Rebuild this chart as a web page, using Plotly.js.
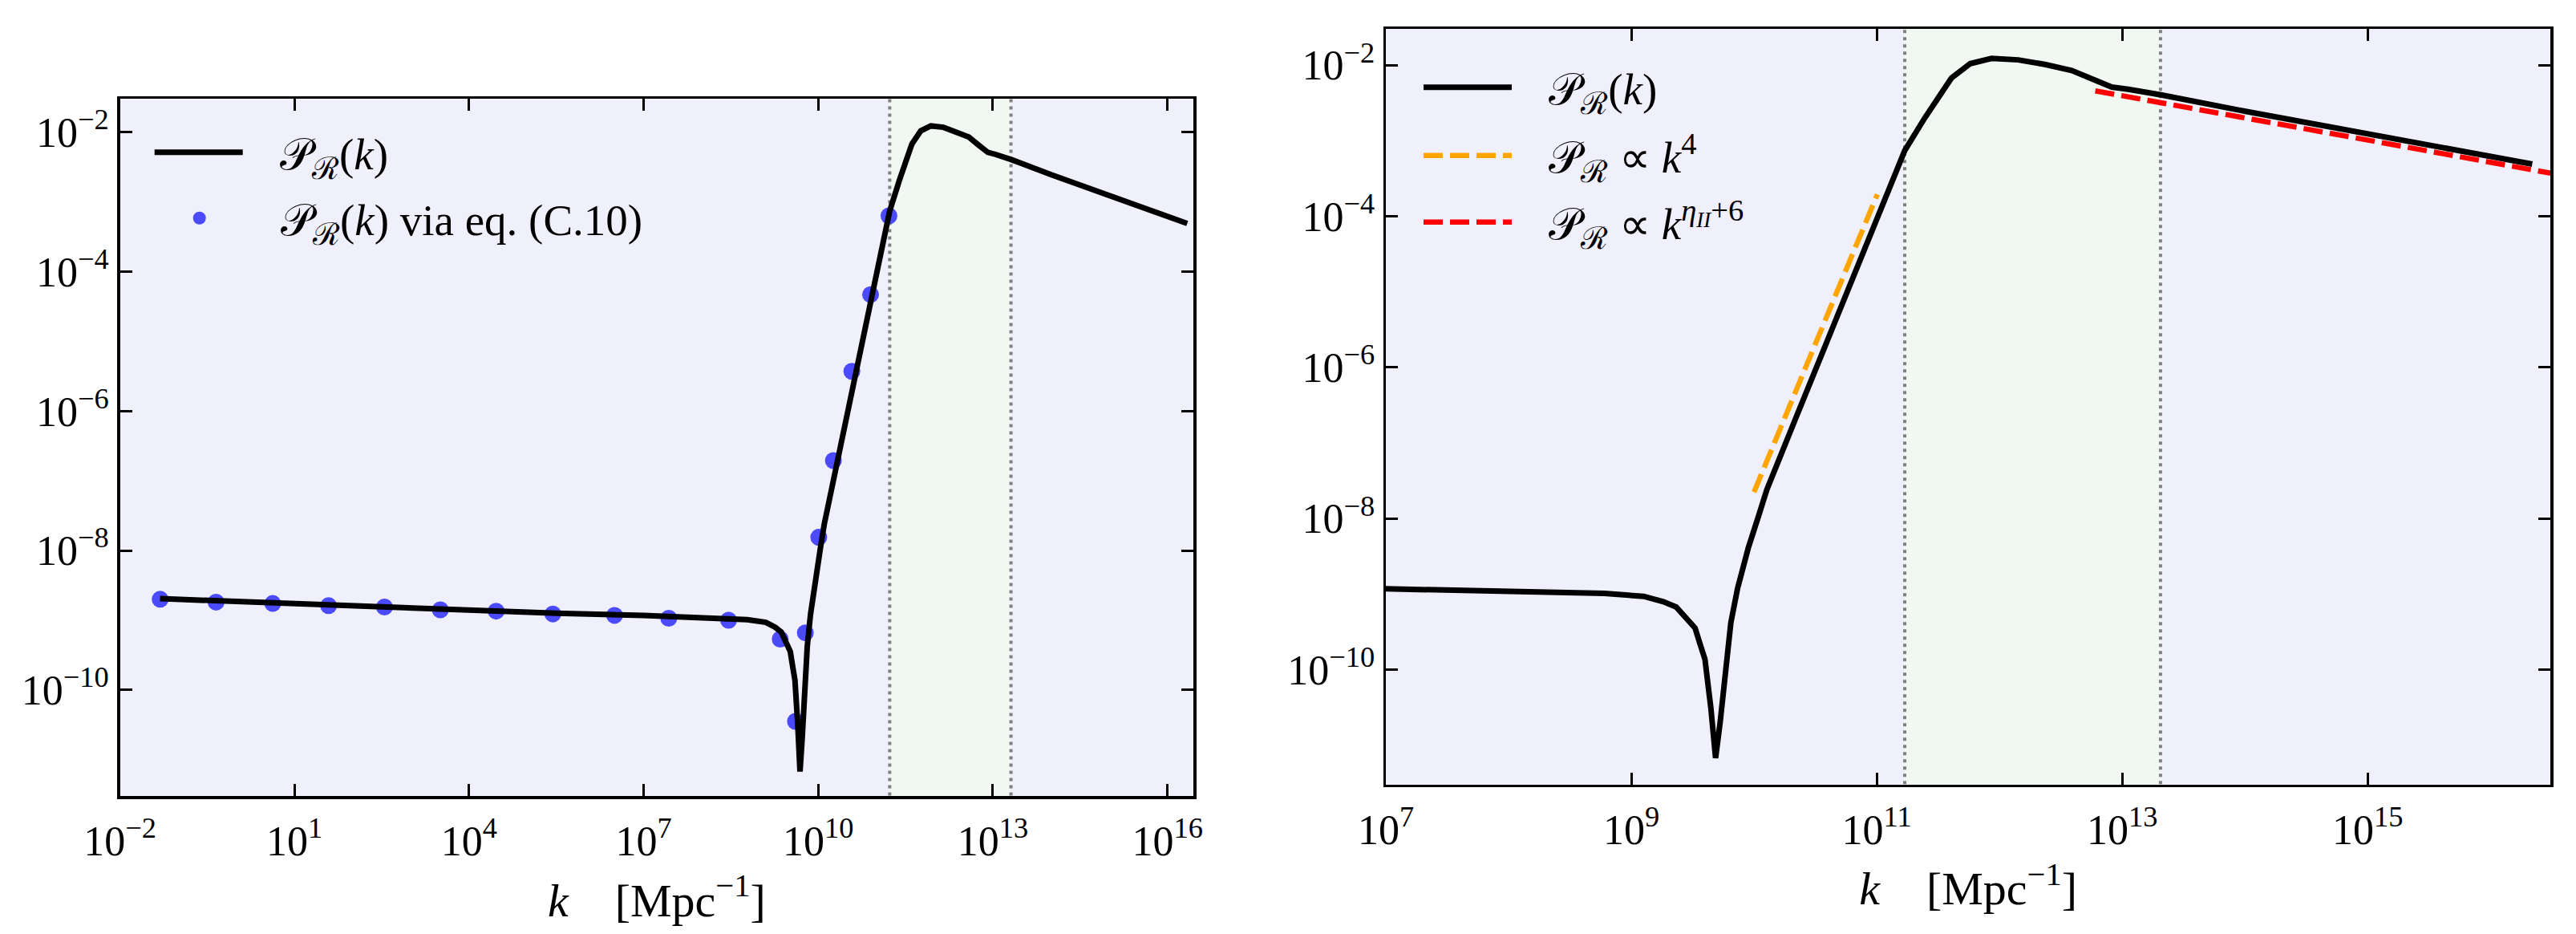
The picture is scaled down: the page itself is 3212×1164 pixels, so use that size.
<!DOCTYPE html>
<html>
<head>
<meta charset="utf-8">
<script src="https://cdn.plot.ly/plotly-3.0.1.min.js"></script>
<style>
  html, body { margin: 0; padding: 0; background: #ffffff; }
  #chart { width: 3212px; height: 1164px; }
  #chart svg text { font-family: 'Liberation Serif' !important; }
</style>
</head>
<body>
<div id="chart"></div>
<script>
// ---------- data ----------
// Curvature power spectrum P_R(k), k in Mpc^-1
const kCurve = [0.049, 3.16, 1.0e3, 3.16e5, 1.0e7, 1.0e8, 6.03e8, 1.26e9, 1.82e9, 2.32e9,
  2.82e9, 3.31e9, 3.63e9, 3.98e9, 4.45e9, 4.86e9, 5.30e9, 5.86e9, 6.47e9, 7.35e9,
  8.97e9, 1.096e10, 1.27e10, 2.24e10, 5.62e10, 1.175e11, 1.69e11, 2.46e11, 3.16e11, 4.06e11,
  5.78e11, 8.61e11, 1.42e12, 2.34e12, 3.87e12, 5.79e12, 8.22e12, 1.12e13, 2.03e13, 1.01e14,
  1.0e15, 2.19e16];
const PCurve = [2.04e-9, 1.78e-9, 1.51e-9, 1.26e-9, 1.175e-9, 1.10e-9, 1.02e-9, 9.33e-10, 7.94e-10, 6.76e-10,
  4.90e-10, 3.55e-10, 2.19e-10, 1.38e-10, 3.09e-11, 6.76e-12, 2.04e-11, 1.05e-10, 4.17e-10, 1.20e-9,
  4.07e-9, 1.12e-8, 2.40e-8, 2.34e-7, 9.55e-6, 1.86e-4, 7.41e-4, 2.00e-3, 3.80e-3, 6.76e-3,
  1.047e-2, 1.23e-2, 1.175e-2, 1.023e-2, 8.51e-3, 6.46e-3, 5.13e-3, 4.79e-3, 4.07e-3, 2.45e-3,
  1.23e-3, 4.90e-4];

// P_R(k) via eq. (C.10)
const kDots = [0.0492, 0.449, 4.23, 38.5, 352, 3.21e3, 2.92e4, 2.75e5, 3.16e6, 2.70e7,
  2.88e8, 2.22e9, 4.06e9, 6.0e9, 1.02e10, 1.82e10, 3.78e10, 7.93e10, 1.64e11];
const PDots = [2.00e-9, 1.82e-9, 1.74e-9, 1.62e-9, 1.55e-9, 1.41e-9, 1.35e-9, 1.23e-9, 1.175e-9, 1.07e-9,
  1.0e-9, 5.37e-10, 3.55e-11, 6.61e-10, 1.55e-8, 1.95e-7, 3.72e-6, 4.68e-5, 6.31e-4];

// power-law guides
const kK4 = [1.0e10, 1.01e11];
const PK4 = [2.24e-8, 1.95e-4];
const kEta = [6.03e12, 3.09e16];
const PEta = [4.57e-3, 3.72e-4];

// shaded band (k range)
const bandEdges = [1.69e11, 2.05e13];
const bandY = [1e-14, 1];

// ticks
const xTickValsLeft = [1e-2, 1e1, 1e4, 1e7, 1e10, 1e13, 1e16];
const xTickTextLeft = ['10<sup>−2</sup>', '10<sup>1</sup>', '10<sup>4</sup>', '10<sup>7</sup>',
  '10<sup>10</sup>', '10<sup>13</sup>', '10<sup>16</sup>'];
const xTickValsRight = [1e7, 1e9, 1e11, 1e13, 1e15];
const xTickTextRight = ['10<sup>7</sup>', '10<sup>9</sup>', '10<sup>11</sup>', '10<sup>13</sup>', '10<sup>15</sup>'];
const yTickVals = [1e-2, 1e-4, 1e-6, 1e-8, 1e-10];
const yTickText = ['10<sup>−2</sup>', '10<sup>−4</sup>', '10<sup>−6</sup>', '10<sup>−8</sup>', '10<sup>−10</sup>'];

// ---------- styling ----------
const FONT = 'Liberation Serif';
const BG = '#f0f0fc';
const BAND = '#f0f8f1';
const PR = '𝒫<sub>ℛ</sub>';
const NB = '\u00a0\u00a0\u00a0';

function bandTraces(xa, ya) {
  const t = [];
  t.push({
    x: [bandEdges[0], bandEdges[1], bandEdges[1], bandEdges[0], bandEdges[0]],
    y: [bandY[0], bandY[0], bandY[1], bandY[1], bandY[0]],
    xaxis: xa, yaxis: ya, mode: 'lines', fill: 'toself', fillcolor: BAND,
    line: {width: 0, color: BAND}, showlegend: false, hoverinfo: 'skip'
  });
  for (const e of bandEdges) {
    t.push({
      x: [e, e], y: bandY, xaxis: xa, yaxis: ya, mode: 'lines',
      line: {color: '#808080', width: 4, dash: '4px,5px'},
      showlegend: false, hoverinfo: 'skip'
    });
  }
  return t;
}

const traces = [];
traces.push(...bandTraces('x', 'y'));
traces.push(...bandTraces('x2', 'y2'));

traces.push({
  x: kDots, y: PDots, xaxis: 'x', yaxis: 'y', mode: 'markers',
  marker: {color: '#4b4bfd', size: 21, line: {width: 0}},
  name: NB + PR + '(<i>k</i>) via eq. (C.10)', legend: 'legend2'
});
traces.push({
  x: kCurve, y: PCurve, xaxis: 'x', yaxis: 'y', mode: 'lines',
  line: {color: '#000000', width: 7},
  name: NB + PR + '(<i>k</i>)', legend: 'legend'
});
traces.push({
  x: kCurve, y: PCurve, xaxis: 'x2', yaxis: 'y2', mode: 'lines',
  line: {color: '#000000', width: 7},
  name: NB + PR + '(<i>k</i>)', legend: 'legend3'
});
traces.push({
  x: kK4, y: PK4, xaxis: 'x2', yaxis: 'y2', mode: 'lines',
  line: {color: '#ffa500', width: 6.5, dash: '24px,9px'},
  name: NB + PR + ' ∝ <i>k</i><sup>4</sup>', legend: 'legend4'
});
traces.push({
  x: kEta, y: PEta, xaxis: 'x2', yaxis: 'y2', mode: 'lines',
  line: {color: '#ff0000', width: 6.5, dash: '24px,9px'},
  name: NB + PR + ' ∝ <i>k</i><sup><i>η</i><sub><i>II</i></sub>+6</sup>', legend: 'legend5'
});

const W = 3212, H = 1164;
function px(x) { return x / W; }
function py(y) { return 1 - y / H; }

const axisCommon = {
  type: 'log', showgrid: false, zeroline: false,
  showline: true, linecolor: '#000', linewidth: 3.5, mirror: 'ticks',
  ticks: 'inside', ticklen: 15, tickwidth: 3, tickcolor: '#000',
  tickmode: 'array', tickfont: {family: FONT, size: 52, color: '#000'},
  automargin: false, minor: {ticks: ''}
};

const xTitle = {
  text: '<i>k</i>\u00a0\u00a0\u00a0\u00a0[Mpc<sup>−1</sup>]',
  font: {family: FONT, size: 58, color: '#000'}, standoff: 26
};

const legendCommon = {
  bgcolor: 'rgba(0,0,0,0)', borderwidth: 0, itemwidth: 110,
  font: {family: FONT, size: 55, color: '#000'},
  xanchor: 'left', yanchor: 'middle', itemclick: false, itemdoubleclick: false
};

const layout = {
  width: W, height: H,
  margin: {l: 0, r: 0, t: 0, b: 0},
  paper_bgcolor: '#ffffff', plot_bgcolor: BG,
  font: {family: FONT, color: '#000'},
  xaxis: Object.assign({}, axisCommon, {
    domain: [px(149.5), px(1488.3)], range: [-2, 16.45], anchor: 'y',
    tickvals: xTickValsLeft, ticktext: xTickTextLeft, title: xTitle, ticklabelstandoff: 8
  }),
  yaxis: Object.assign({}, axisCommon, {
    domain: [py(992), py(123)], range: [-11.52, -1.52], anchor: 'x',
    tickvals: yTickVals, ticktext: yTickText
  }),
  xaxis2: Object.assign({}, axisCommon, {
    domain: [px(1728), px(3180.3)], range: [7, 16.49], anchor: 'y2',
    tickvals: xTickValsRight, ticktext: xTickTextRight, title: xTitle, ticklabelstandoff: 8
  }),
  yaxis2: Object.assign({}, axisCommon, {
    domain: [py(977.7), py(36)], range: [-11.52, -1.52], anchor: 'x2',
    tickvals: yTickVals, ticktext: yTickText
  }),
  legend: Object.assign({}, legendCommon, {x: px(187.7), y: py(190)}),
  legend2: Object.assign({}, legendCommon, {x: px(188.7), y: py(272)}),
  legend3: Object.assign({}, legendCommon, {x: px(1770), y: py(109)}),
  legend4: Object.assign({}, legendCommon, {x: px(1770), y: py(194)}),
  legend5: Object.assign({}, legendCommon, {x: px(1770), y: py(277)}),
  showlegend: true
};

Plotly.newPlot('chart', traces, layout, {displayModeBar: false, staticPlot: true});
</script>
</body>
</html>
